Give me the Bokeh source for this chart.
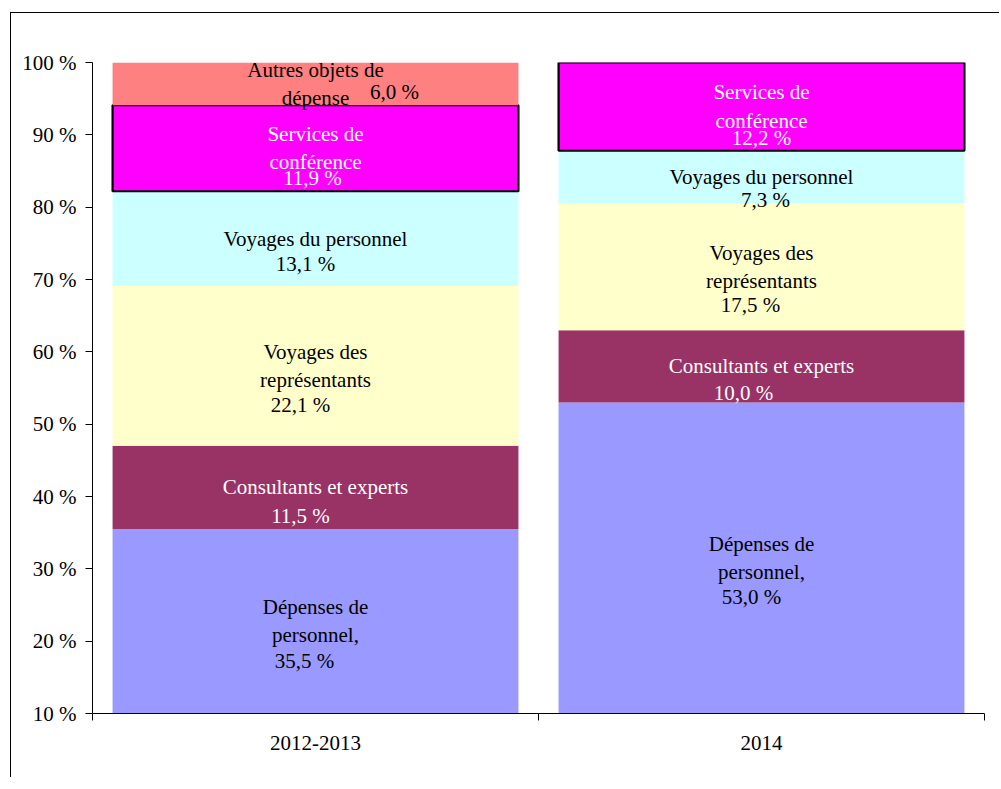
from bokeh.plotting import figure
from bokeh.models import ColumnDataSource, FixedTicker, Range1d
from bokeh.core.properties import value
from bokeh.embed import file_html
from bokeh.resources import INLINE

# ---------------- data ----------------
categories = ["2012-2013", "2014"]
series = ["Dépenses de personnel", "Consultants et experts",
          "Voyages des représentants", "Voyages du personnel",
          "Services de conférence", "Autres objets de dépense"]
label_names = ["Dépenses de\npersonnel,", "Consultants et experts",
               "Voyages des\nreprésentants", "Voyages du personnel",
               "Services de\nconférence", "Autres objets de\ndépense"]
values_2012_2013 = [35.5, 11.5, 22.1, 13.1, 11.9, 6.0]
values_2014 = [53.0, 10.0, 17.5, 7.3, 12.2, 0.0]
y_ticks = [10, 20, 30, 40, 50, 60, 70, 80, 90, 100]
y_tick_labels = ["10 %", "20 %", "30 %", "40 %", "50 %", "60 %", "70 %", "80 %", "90 %", "100 %"]

# ---------------- styles ----------------
colors = ["#9999FF", "#993366", "#FFFFCC", "#CCFFFF", "#FF00FF", "#FF8080"]
text_colors = ["black", "white", "black", "black", "white", "black"]
outlined = [False, False, False, False, True, False]
# value-label pixel offsets relative to segment centre, per category
val_dx = [[-11, -15, -15, -10, -3, 79], [-10, -18, -11, 4, 0, 0]]
val_dy = [[40, 29, 39, 25, 30, 8], [39, 27, 38, 23, 31, 0]]
FONT = "Liberation Serif"
FS = "21px"
Y_MIN, Y_MAX = 10, 100

values = [values_2012_2013, values_2014]
x_centers = [i + 0.5 for i in range(len(categories))]

p = figure(output_backend="svg", toolbar_location=None,
           frame_width=892, frame_height=651,
           min_border_left=81, min_border_top=49,
           min_border_right=15, min_border_bottom=64,
           x_range=Range1d(0, len(categories)), y_range=Range1d(Y_MIN, Y_MAX),
           tools="")
p.margin = (12, 0, 0, 10)
p.styles = {"border-left": "1px solid black", "border-top": "1px solid black"}
p.outline_line_color = None
p.xgrid.visible = False
p.ygrid.visible = False
p.background_fill_color = "white"
p.border_fill_color = "white"

# stacked bars
for s_idx, s_name in enumerate(series):
    bottoms, tops = [], []
    for c_idx in range(len(categories)):
        b = sum(values[c_idx][:s_idx])
        bottoms.append(b)
        tops.append(b + values[c_idx][s_idx])
    src = ColumnDataSource(dict(x=x_centers, bottom=bottoms, top=tops))
    p.vbar(x="x", bottom="bottom", top="top", width=0.91, source=src,
           fill_color=colors[s_idx],
           line_color="black" if outlined[s_idx] else None,
           line_width=2.2 if outlined[s_idx] else 0)

# labels (centred on the visible part of each segment)
for s_idx in range(len(series)):
    nx, ny, vt, dx, dy = [], [], [], [], []
    for c_idx in range(len(categories)):
        v = values[c_idx][s_idx]
        if v <= 0:
            continue
        b = sum(values[c_idx][:s_idx])
        lo, hi = max(b, Y_MIN), min(b + v, Y_MAX)
        mid = (lo + hi) / 2
        nx.append(x_centers[c_idx]); ny.append(mid)
        vt.append(f"{v:.1f}".replace(".", ",") + " %")
        dx.append(val_dx[c_idx][s_idx]); dy.append(val_dy[c_idx][s_idx])
    if not nx:
        continue
    nsrc = ColumnDataSource(dict(x=nx, y=ny, t=[label_names[s_idx]] * len(nx)))
    p.text(x="x", y="y", text="t", source=nsrc, text_font=value(FONT),
           text_font_size=FS, text_color=text_colors[s_idx],
           text_align="center", text_baseline="middle", text_line_height=1.18)
    vsrc = ColumnDataSource(dict(x=nx, y=ny, t=vt, dx=dx, dy=dy))
    p.text(x="x", y="y", text="t", source=vsrc, x_offset="dx", y_offset="dy",
           text_font=value(FONT), text_font_size=FS,
           text_color=text_colors[s_idx],
           text_align="center", text_baseline="middle")

# y axis
p.yaxis.ticker = FixedTicker(ticks=y_ticks)
p.yaxis.major_label_overrides = {t: l for t, l in zip(y_ticks, y_tick_labels)}
p.yaxis.major_tick_out = 7
p.yaxis.major_tick_in = 0
p.yaxis.minor_tick_out = 0
p.yaxis.minor_tick_in = 0
p.yaxis.axis_line_color = "black"
p.yaxis.major_tick_line_color = "black"
p.yaxis.major_label_text_font = FONT
p.yaxis.major_label_text_font_size = FS
p.yaxis.major_label_text_color = "black"
p.yaxis.major_label_standoff = 9

# x axis
p.xaxis.ticker = FixedTicker(ticks=x_centers, minor_ticks=list(range(len(categories) + 1)))
p.xaxis.major_label_overrides = {x: c for x, c in zip(x_centers, categories)}
p.xaxis.major_tick_out = 0
p.xaxis.major_tick_in = 0
p.xaxis.minor_tick_out = 7
p.xaxis.minor_tick_in = 0
p.xaxis.minor_tick_line_color = "black"
p.xaxis.axis_line_color = "black"
p.xaxis.major_label_text_font = FONT
p.xaxis.major_label_text_font_size = FS
p.xaxis.major_label_text_color = "black"
p.xaxis.major_label_standoff = 15

open("out.html", "w").write(file_html(p, INLINE))
